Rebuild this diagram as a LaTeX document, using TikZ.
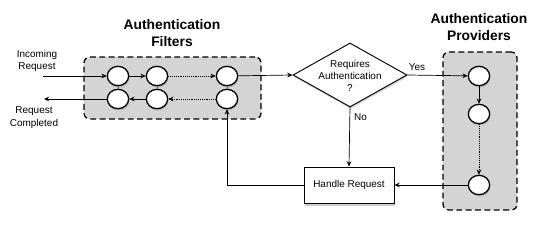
\documentclass[tikz,border=0pt]{standalone}
\usepackage{fontspec}
\setmainfont{Liberation Sans}
\usetikzlibrary{arrows.meta,shapes.geometric,shadows}
\tikzset{pin/.style={semithick, -{Stealth[length=4.5pt,width=4pt]}},
  grp/.style={draw, line width=1.1pt, dashed, dash pattern=on 5pt off 3pt, rounded corners=5pt, fill=black!17},
  stage/.style={ellipse, draw, line width=1.1pt, fill=white, minimum width=0.64cm, minimum height=0.58cm, inner sep=0pt,
    drop shadow={opacity=0.35, shadow xshift=0.6pt, shadow yshift=-1.6pt}},
  ttl/.style={font=\bfseries\fontsize{11.8}{14.5}\selectfont, align=center},
  lbl/.style={font=\fontsize{8.5}{10.5}\selectfont, align=center}}

\begin{document}
\begin{tikzpicture}[x=0.03cm, y=-0.03cm, font=\fontsize{8.5}{10.5}\selectfont]
  \useasboundingbox (0,0) rectangle (551,227);
  % groups
  \node[grp, minimum width=5.31cm, minimum height=1.86cm] (filt) at (172.5,88) {};
  \node[grp, minimum width=2.22cm, minimum height=4.74cm] (prov) at (480,131) {};
  \node[ttl] (filtT) at (172,33.5) {Authentication\\Filters};
  \node[ttl] (provT) at (479,27.5) {Authentication\\Providers};
  % filter chain
  \node[stage] (f1) at (118,76) {};
  \node[stage] (f2) at (157,76) {};
  \node[stage] (f3) at (227,76) {};
  \node[stage] (b1) at (118,99) {};
  \node[stage] (b2) at (157,99) {};
  \node[stage] (b3) at (227,99) {};
  \foreach \a/\b in {f1/b1, f2/b2, f3/b3}{\draw[black!60, semithick] (\a.south) -- (\b.north);}
  \draw[pin] (f1) -- (f2);
  \draw[pin, densely dotted] (f2) -- (f3);
  \draw[pin, densely dotted] (b3) -- (b2);
  \draw[pin] (b2) -- (b1);
  % in and out
  \node[lbl] (inc) at (37,61) {Incoming\\Request};
  \node[lbl] (done) at (34,117.5) {Request\\Completed};
  \coordinate (inS) at (43,76);
  \coordinate (outE) at (44,99);
  \draw[pin] (inS) -- (f1);
  \draw[pin] (b1) -- (outE);
  % decision
  \node[diamond, draw, thick, fill=white, minimum width=3.42cm, minimum height=1.92cm, inner sep=0pt,
    drop shadow={opacity=0.35, shadow xshift=0.6pt, shadow yshift=-1.6pt}] (req) at (350,75) {};
  \node[lbl] (reqT) at (350,76) {Requires\\Authentication\\?};
  \draw[pin] (f3) -- (req.west);
  % providers
  \node[stage] (p1) at (479,76) {};
  \node[stage] (p2) at (479,114) {};
  \node[stage] (p3) at (479,185) {};
  \draw[pin] (p1) -- (p2);
  \draw[pin, densely dotted] (p2) -- (p3);
  \draw[pin] (req.east) -- node[above, pos=0.12, xshift=2pt] {Yes} (p1);
  % handling
  \node[draw, thick, fill=white, minimum width=2.7cm, minimum height=1.08cm,
    drop shadow={opacity=0.4, shadow xshift=1pt, shadow yshift=-2.5pt}] (hr) at (349,185) {Handle Request};
  \draw[pin] (req.south) -- node[right, pos=0.16] {No} (hr.north);
  \draw[pin] (p3) -- (hr.east);
  \draw[pin] (hr.west) -| (b3.south);
\end{tikzpicture}
\end{document}
